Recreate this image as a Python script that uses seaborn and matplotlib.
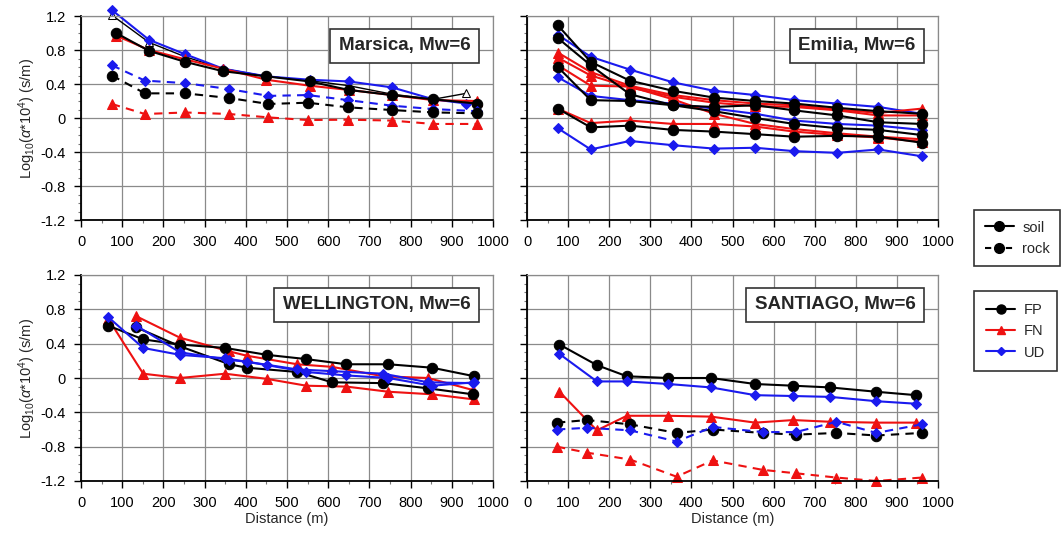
import seaborn as sns
import matplotlib.pyplot as plt
from matplotlib.lines import Line2D
from matplotlib.ticker import MultipleLocator, FuncFormatter

# ---- Marsica ----
d_mar = [85, 165, 253, 345, 450, 555, 650, 755, 855, 960]
d_mar_open = [75, 165, 253, 345, 450, 555, 650, 755, 855, 935]
d_mar_rock = [75, 155, 253, 360, 455, 550, 649, 754, 855, 960]
mar_fp_soil = [1.00, 0.79, 0.66, 0.55, 0.49, 0.43, 0.33, 0.27, 0.22, 0.17]
mar_fn_soil = [0.97, 0.80, 0.69, 0.58, 0.45, 0.38, 0.33, 0.27, 0.21, 0.20]
mar_ud_soil = [1.27, 0.92, 0.75, 0.58, 0.49, 0.45, 0.43, 0.36, 0.22, 0.17]
mar_fp_soil2 = [1.21, 0.89, 0.72, 0.58, 0.49, 0.44, 0.38, 0.28, 0.22, 0.29]
mar_fp_rock = [0.50, 0.29, 0.29, 0.235, 0.165, 0.18, 0.125, 0.094, 0.066, 0.055]
mar_fn_rock = [0.165, 0.047, 0.065, 0.047, 0.007, -0.024, -0.02, -0.03, -0.07, -0.07]
mar_ud_rock = [0.62, 0.44, 0.41, 0.34, 0.26, 0.27, 0.21, 0.145, 0.105, 0.08]

# ---- Emilia ----
d_emi = [75, 155, 250, 355, 455, 555, 650, 755, 855, 960]
emi_fp = [[1.09, 0.66, 0.44, 0.32, 0.24, 0.20, 0.17, 0.12, 0.08, 0.05],
          [0.94, 0.62, 0.28, 0.15, 0.08, 0.00, -0.07, -0.12, -0.14, -0.20],
          [0.60, 0.21, 0.20, 0.15, 0.13, 0.15, 0.09, 0.03, -0.05, -0.07],
          [0.11, -0.11, -0.09, -0.14, -0.16, -0.19, -0.22, -0.21, -0.22, -0.29]]
emi_fn = [[0.77, 0.54, 0.38, 0.27, 0.21, 0.17, 0.15, 0.10, 0.06, 0.11],
          [0.71, 0.50, 0.36, 0.25, 0.18, 0.14, 0.13, 0.09, 0.03, 0.03],
          [0.62, 0.38, 0.37, 0.22, 0.05, -0.07, -0.13, -0.18, -0.22, -0.25],
          [0.11, -0.06, -0.03, -0.07, -0.07, -0.10, -0.16, -0.20, -0.23, -0.28]]
emi_ud = [[0.98, 0.72, 0.57, 0.42, 0.32, 0.27, 0.21, 0.17, 0.13, 0.05],
          [0.48, 0.26, 0.21, 0.17, 0.11, 0.05, -0.03, -0.07, -0.09, -0.14],
          [-0.12, -0.37, -0.27, -0.32, -0.36, -0.35, -0.39, -0.41, -0.37, -0.45]]

# ---- Wellington ----
d_wel_a = [66, 151, 240, 350, 451, 547, 644, 746, 852, 955]
d_wel_b = [134, 240, 360, 402, 525, 609, 734, 842, 951]
wel_fp_a = [0.61, 0.45, 0.39, 0.35, 0.27, 0.22, 0.16, 0.16, 0.12, 0.02]
wel_fn_a = [0.69, 0.05, 0.00, 0.05, -0.01, -0.09, -0.10, -0.16, -0.19, -0.25]
wel_ud_a = [0.71, 0.35, 0.27, 0.23, 0.15, 0.07, 0.03, 0.00, -0.09, -0.05]
wel_fp_b = [0.59, 0.37, 0.16, 0.12, 0.07, -0.05, -0.06, -0.12, -0.19]
wel_fn_b = [0.72, 0.47, 0.31, 0.26, 0.16, 0.13, 0.02, 0.00, -0.14]
wel_ud_b = [0.61, 0.30, 0.21, 0.19, 0.10, 0.08, 0.05, -0.05, -0.06]

# ---- Santiago ----
d_san = [79, 170, 243, 344, 448, 555, 648, 738, 849, 947]
d_san_rock = [73, 146, 251, 364, 452, 573, 654, 753, 850, 960]
san_fp_soil = [0.39, 0.15, 0.02, 0.00, 0.00, -0.07, -0.09, -0.11, -0.16, -0.20]
san_fn_soil = [-0.16, -0.61, -0.44, -0.44, -0.45, -0.52, -0.49, -0.51, -0.52, -0.52]
san_ud_soil = [0.28, -0.04, -0.04, -0.07, -0.11, -0.20, -0.21, -0.22, -0.27, -0.30]
san_fp_rock = [-0.52, -0.49, -0.54, -0.64, -0.60, -0.64, -0.66, -0.64, -0.67, -0.64]
san_fn_rock = [-0.80, -0.87, -0.95, -1.15, -0.96, -1.07, -1.11, -1.16, -1.20, -1.16]
san_ud_rock = [-0.60, -0.58, -0.61, -0.74, -0.57, -0.63, -0.63, -0.51, -0.64, -0.54]

colors = {"FP": "black", "FN": "#ee1111", "UD": "#1a1aee"}
markers = {"FP": "o", "FN": "^", "UD": "D"}
msize = {"FP": 7.5, "FN": 6.5, "UD": 5}

sns.set_theme(style="ticks")
plt.rcParams["font.family"] = ["Liberation Sans", "DejaVu Sans"]
plt.rcParams["axes.unicode_minus"] = False
plt.rcParams["mathtext.fontset"] = "custom"
plt.rcParams["mathtext.rm"] = "Liberation Sans"
plt.rcParams["mathtext.it"] = "Liberation Sans:italic"


def draw(ax, x, y, comp, rock=False, **kw):
    c = colors[comp]
    opts = dict(color=c, marker=markers[comp], markersize=msize[comp],
                markeredgecolor=c, lw=1.5, clip_on=False,
                linestyle=(0, (4, 3)) if rock else "-")
    opts.update(kw)
    sns.lineplot(x=x, y=y, ax=ax, **opts)


fig = plt.figure(figsize=(10.62, 5.40), dpi=100)
W, H = 1062, 540
boxes = {
    "tl": (81, 16, 412, 204),
    "tr": (527, 16, 411, 204),
    "bl": (81, 275, 412, 206),
    "br": (527, 275, 411, 206),
}
axs = {}
for k, (l, t, w, h) in boxes.items():
    axs[k] = fig.add_axes([l / W, 1 - (t + h) / H, w / W, h / H])

# Marsica
ax = axs["tl"]
draw(ax, d_mar_open, mar_fp_soil2, "FP", lw=1.0, markerfacecolor="white", markersize=6, marker="^")
draw(ax, d_mar_open, mar_ud_soil, "UD")
draw(ax, d_mar, mar_fn_soil, "FN")
draw(ax, d_mar, mar_fp_soil, "FP")
draw(ax, d_mar_rock, mar_ud_rock, "UD", rock=True)
draw(ax, d_mar_rock, mar_fp_rock, "FP", rock=True)
draw(ax, d_mar_rock, mar_fn_rock, "FN", rock=True)

# Emilia
ax = axs["tr"]
for ys in emi_ud:
    draw(ax, d_emi, ys, "UD")
for ys in emi_fn:
    draw(ax, d_emi, ys, "FN")
for ys in emi_fp:
    draw(ax, d_emi, ys, "FP")

# Wellington
ax = axs["bl"]
draw(ax, d_wel_a, wel_fn_a, "FN")
draw(ax, d_wel_b, wel_fn_b, "FN")
draw(ax, d_wel_a, wel_fp_a, "FP")
draw(ax, d_wel_b, wel_fp_b, "FP")
draw(ax, d_wel_a, wel_ud_a, "UD")
draw(ax, d_wel_b, wel_ud_b, "UD")

# Santiago
ax = axs["br"]
draw(ax, d_san, san_fp_soil, "FP")
draw(ax, d_san, san_ud_soil, "UD")
draw(ax, d_san, san_fn_soil, "FN")
draw(ax, d_san_rock, san_fp_rock, "FP", rock=True)
draw(ax, d_san_rock, san_ud_rock, "UD", rock=True)
draw(ax, d_san_rock, san_fn_rock, "FN", rock=True)

titles = {"tl": "Marsica, Mw=6", "tr": "Emilia, Mw=6",
          "bl": "WELLINGTON, Mw=6", "br": "SANTIAGO, Mw=6"}
fmt = FuncFormatter(lambda v, p: "0" if abs(v) < 1e-9 else f"{v:.1f}")
for k, ax in axs.items():
    ax.set_xlim(0, 1000)
    ax.set_ylim(-1.2, 1.2)
    ax.xaxis.set_major_locator(MultipleLocator(100))
    ax.xaxis.set_minor_locator(MultipleLocator(50))
    ax.yaxis.set_major_locator(MultipleLocator(0.4))
    ax.yaxis.set_minor_locator(MultipleLocator(0.1))
    ax.yaxis.set_major_formatter(fmt)
    ax.grid(True, which="major", color="#8a8a8a", lw=0.9)
    ax.set_axisbelow(True)
    for s in ["left", "bottom"]:
        ax.spines[s].set_color("black")
        ax.spines[s].set_linewidth(1.3)
    for s in ["top", "right"]:
        ax.spines[s].set_color("#8a8a8a")
        ax.spines[s].set_linewidth(0.9)
    ax.tick_params(which="major", direction="out", length=5, width=1.0,
                   labelsize=10.5, colors="black", pad=6)
    ax.tick_params(which="minor", direction="out", length=2.5, width=0.8, color="#777777")
    ax.set_xlabel("Distance (m)" if k in ("bl", "br") else "", fontsize=10.5, labelpad=1)
    if k in ("tl", "bl"):
        ax.set_ylabel(r"Log$_{10}$($\alpha$*10$^4$) (s/m)", fontsize=10.5, labelpad=2)
    else:
        ax.set_ylabel("")
        ax.tick_params(axis="y", labelleft=False)
    ax.text(0.945, 0.855, titles[k], transform=ax.transAxes, ha="right", va="center",
            fontsize=13.5, fontweight="bold", zorder=10,
            bbox=dict(boxstyle="square,pad=0.45", fc="white", ec="#333333", lw=1.2))

h1 = [Line2D([], [], color="black", marker="o", markersize=7, lw=1.5),
      Line2D([], [], color="black", marker="o", markersize=7, lw=1.5, linestyle=(0, (3, 2)))]
leg1 = fig.legend(h1, ["soil", "rock"], loc="upper left", bbox_to_anchor=(967 / W, 1 - 203 / H),
                  fontsize=10.5, handlelength=2.0, handletextpad=0.6, fancybox=False,
                  edgecolor="#333333", borderpad=0.7, labelspacing=0.5, framealpha=1)
leg1.get_frame().set_linewidth(1.2)
h2 = [Line2D([], [], color=colors[c], marker=markers[c], markersize=msize[c] - 1, lw=1.5)
      for c in ["FP", "FN", "UD"]]
leg2 = fig.legend(h2, ["FP", "FN", "UD"], loc="upper left", bbox_to_anchor=(967 / W, 1 - 284 / H),
                  fontsize=10.5, handlelength=2.0, handletextpad=0.6, fancybox=False,
                  edgecolor="#333333", borderpad=0.8, labelspacing=0.5, framealpha=1)
leg2.get_frame().set_linewidth(1.2)

fig.savefig("out.png", dpi=100)
